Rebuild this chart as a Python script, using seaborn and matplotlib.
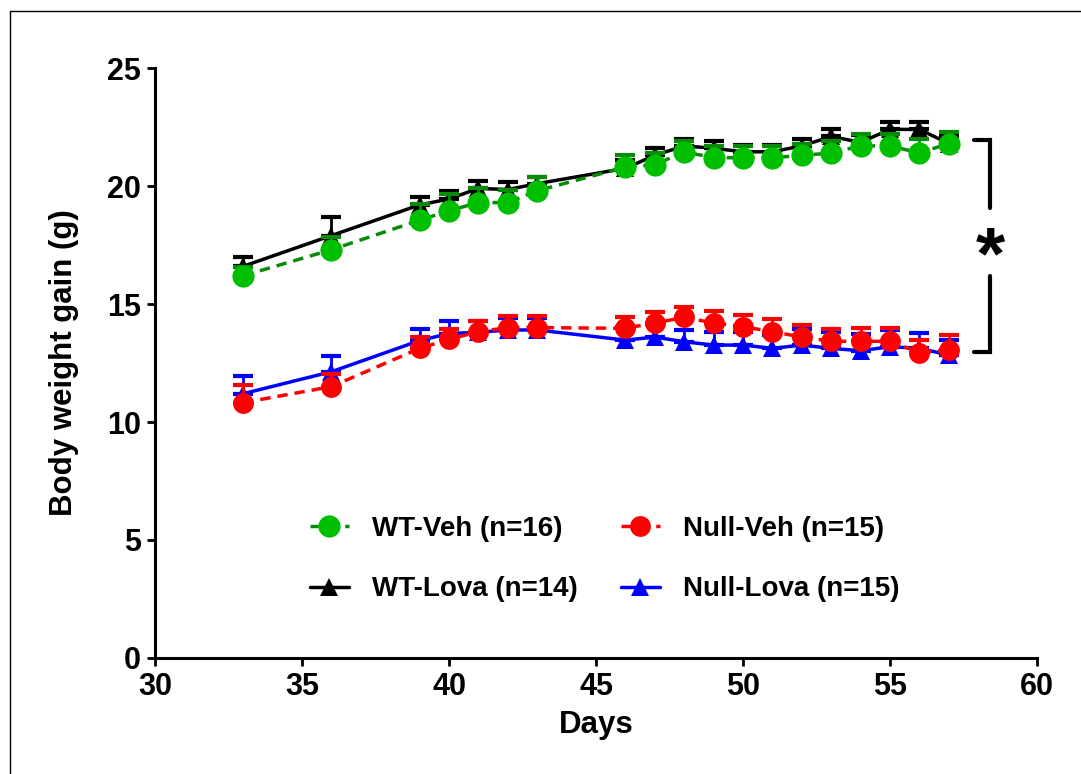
import numpy as np
import pandas as pd
import matplotlib
matplotlib.use("Agg")
import matplotlib.pyplot as plt
from matplotlib.lines import Line2D
import seaborn as sns

# Dias de medicion y ganancia de peso por grupo (media +/- SEM)
days = [33, 36, 39, 40, 41, 42, 43, 46, 47, 48, 49, 50, 51, 52, 53, 54, 55, 56, 57]

wt_veh = [16.2, 17.3, 18.55, 18.95, 19.3, 19.3, 19.8, 20.8, 20.9, 21.45, 21.2,
          21.2, 21.2, 21.3, 21.4, 21.7, 21.7, 21.4, 21.8]
wt_veh_sem = [0.35, 0.55, 0.7, 0.7, 0.6, 0.55, 0.6, 0.5, 0.5, 0.45, 0.5,
              0.5, 0.5, 0.5, 0.5, 0.5, 0.5, 0.6, 0.5]

wt_lova = [16.6, 17.9, 19.2, 19.45, 19.9, 19.85, 20.1, 20.75, 21.3, 21.7, 21.6,
           21.45, 21.45, 21.7, 22.1, 21.85, 22.4, 22.4, 21.8]
wt_lova_sem = [0.4, 0.8, 0.35, 0.35, 0.3, 0.3, 0.3, 0.35, 0.3, 0.3, 0.3,
               0.3, 0.3, 0.3, 0.3, 0.3, 0.3, 0.3, 0.3]

null_veh = [10.82, 11.5, 13.12, 13.5, 13.83, 14.0, 14.0, 13.97, 14.2, 14.43, 14.2,
            14.04, 13.83, 13.6, 13.42, 13.42, 13.42, 12.94, 13.05]
null_veh_sem = [0.75, 0.55, 0.5, 0.45, 0.45, 0.5, 0.5, 0.5, 0.45, 0.45, 0.5,
                0.5, 0.55, 0.5, 0.5, 0.55, 0.55, 0.55, 0.65]

null_lova = [11.2, 12.13, 13.45, 13.75, 13.8, 13.9, 13.9, 13.47, 13.6, 13.4, 13.26,
             13.26, 13.12, 13.26, 13.12, 13.02, 13.19, 13.12, 12.84]
null_lova_sem = [0.75, 0.65, 0.5, 0.55, 0.5, 0.5, 0.5, 0.55, 0.55, 0.5, 0.55,
                 0.55, 0.55, 0.7, 0.7, 0.7, 0.7, 0.66, 0.65]

labels = ["WT-Veh (n=16)", "WT-Lova (n=14)", "Null-Veh (n=15)", "Null-Lova (n=15)"]

sns.set_style("ticks")
plt.rcParams["font.family"] = ["Liberation Sans", "DejaVu Sans"]
plt.rcParams["font.weight"] = "bold"
plt.rcParams["axes.labelweight"] = "bold"
plt.rcParams["text.color"] = "black"
plt.rcParams["axes.labelcolor"] = "black"
plt.rcParams["xtick.color"] = "black"
plt.rcParams["ytick.color"] = "black"

fig = plt.figure(figsize=(10.81, 7.74), dpi=100)
ax = fig.add_axes([0.1434, 0.1499, 0.8159, 0.7622])

# (valores, sem, color linea, color marcador, marcador, tamano, estilo, etiqueta, zorder)
groups = [
    (wt_lova, wt_lova_sem, "black", "black", "^", 13, "-", labels[1], 2),
    (null_lova, null_lova_sem, "#0000ff", "#0000ff", "^", 13, "-", labels[3], 2),
    (wt_veh, wt_veh_sem, "#0a8a0a", "#00bf00", "o", 16, (0, (3, 2)), labels[0], 3),
    (null_veh, null_veh_sem, "#ff0000", "#ff0000", "o", 15, (0, (3, 2)), labels[2], 3),
]

for vals, sem, lc, mc, mk, ms, ls, lab, z in groups:
    # barras de error solo hacia arriba
    ax.errorbar(days, vals, yerr=[np.zeros(len(sem)), sem], fmt="none",
                ecolor=lc, elinewidth=2, capsize=7, capthick=3, zorder=z)
    sns.lineplot(x=days, y=vals, ax=ax, color=lc, marker=mk, markersize=ms,
                 markerfacecolor=mc, markeredgecolor=mc, markeredgewidth=0,
                 linestyle=ls, linewidth=2.5, label=lab, zorder=z)

ax.set_xlim(30, 60)
ax.set_ylim(0, 25)
ax.set_xticks([30, 35, 40, 45, 50, 55, 60])
ax.set_yticks([0, 5, 10, 15, 20, 25])
ax.tick_params(axis="both", labelsize=22, width=2, length=6, pad=4, color="black")
for lab in ax.get_xticklabels() + ax.get_yticklabels():
    lab.set_fontweight("bold")
sns.despine(ax=ax)
for s in ["left", "bottom"]:
    ax.spines[s].set_linewidth(2.2)
    ax.spines[s].set_color("black")

ax.set_xlabel("Days", fontsize=22.5, fontweight="bold", labelpad=6)
ax.set_ylabel("Body weight gain (g)", fontsize=22.5, fontweight="bold", labelpad=20)

# leyenda en dos columnas
handles, labs = ax.get_legend_handles_labels()
order = [labs.index(l) for l in labels]
ax.legend([handles[i] for i in order], [labs[i] for i in order], ncol=2,
          loc="center", bbox_to_anchor=(0.51, 0.168), frameon=False,
          fontsize=20, handlelength=1.4, labelspacing=1.25, columnspacing=1.55,
          handletextpad=0.85)

# corchete de significancia
bx, btick = 58.4, 57.85
ax.plot([btick, bx, bx], [21.95, 21.95, 19.05], color="black", lw=3,
        clip_on=False, solid_joinstyle="miter")
ax.plot([bx, bx, btick], [16.2, 12.97, 12.97], color="black", lw=3,
        clip_on=False, solid_joinstyle="miter")
ax.text(bx, 16.9, "*", fontsize=54, fontweight="bold", ha="center",
        va="center", clip_on=False)

# marco parcial de la figura
fig.add_artist(Line2D([0.0093, 0.0093], [0, 0.986], color="black", lw=1))
fig.add_artist(Line2D([0.0093, 1.0], [0.986, 0.986], color="black", lw=1))

fig.savefig("out.png", dpi=100)
